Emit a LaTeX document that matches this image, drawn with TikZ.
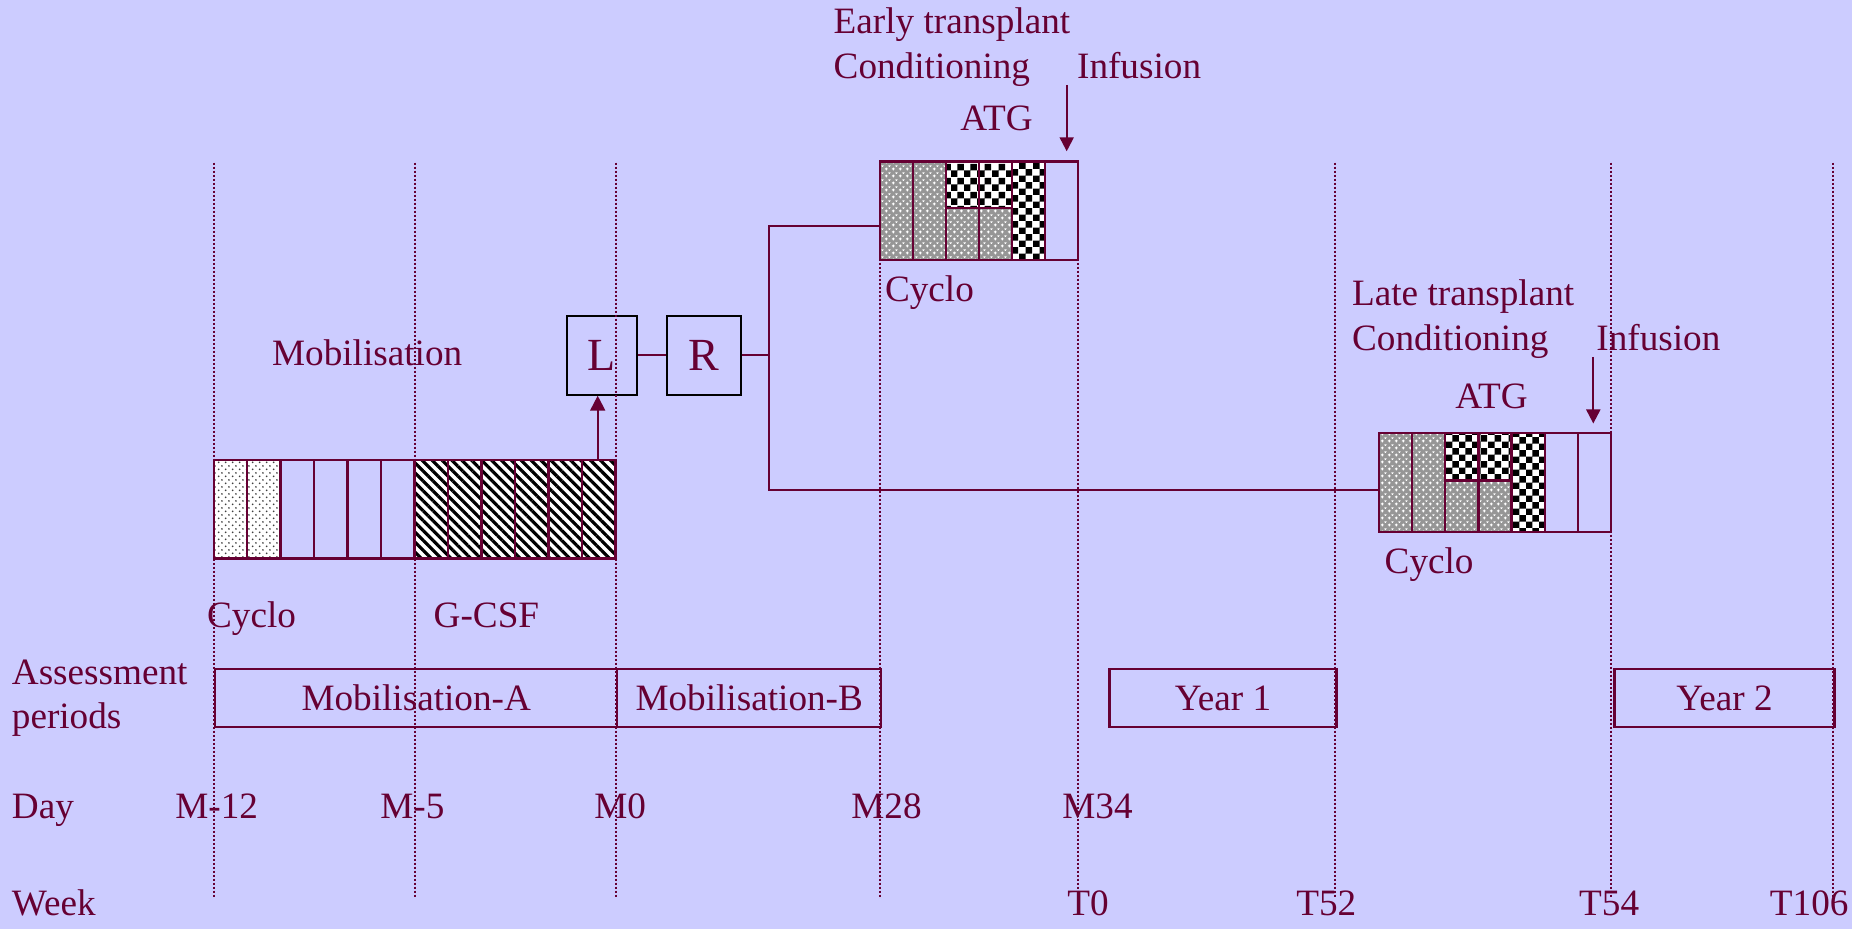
\documentclass[tikz,border=0pt]{standalone}
\usepackage{fontspec}
\setmainfont{Liberation Serif}
\usetikzlibrary{fit,arrows.meta,patterns,patterns.meta}
\definecolor{bgc}{RGB}{204,204,255}
\definecolor{mar}{RGB}{102,0,51}
\definecolor{midgray}{RGB}{150,150,150}

\pgfdeclarepatternformonly{mydots}{\pgfqpoint{0pt}{0pt}}{\pgfqpoint{3.4pt}{3.4pt}}{\pgfqpoint{3.4pt}{3.4pt}}{%
  \pgfpathcircle{\pgfqpoint{0.85pt}{0.85pt}}{0.5pt}%
  \pgfpathcircle{\pgfqpoint{2.55pt}{2.55pt}}{0.5pt}%
  \pgfusepath{fill}}
\pgfdeclarepatternformonly{crossx}{\pgfqpoint{0pt}{0pt}}{\pgfqpoint{3.4pt}{3.4pt}}{\pgfqpoint{3.4pt}{3.4pt}}{%
  \pgfpathrectangle{\pgfqpoint{0.5pt}{1.3pt}}{\pgfqpoint{1.4pt}{0.5pt}}%
  \pgfpathrectangle{\pgfqpoint{0.95pt}{0.85pt}}{\pgfqpoint{0.5pt}{1.4pt}}%
  \pgfpathrectangle{\pgfqpoint{2.2pt}{2.95pt}}{\pgfqpoint{1.2pt}{0.45pt}}%
  \pgfpathrectangle{\pgfqpoint{2.55pt}{2.6pt}}{\pgfqpoint{0.45pt}{0.8pt}}%
  \pgfusepath{fill}}
\pgfdeclarepatternformonly{checker}{\pgfqpoint{0pt}{0pt}}{\pgfqpoint{6.7pt}{6.7pt}}{\pgfqpoint{6.7pt}{6.7pt}}{%
  \pgfpathrectangle{\pgfqpoint{0pt}{0pt}}{\pgfqpoint{3.35pt}{3.35pt}}%
  \pgfpathrectangle{\pgfqpoint{3.35pt}{3.35pt}}{\pgfqpoint{3.35pt}{3.35pt}}%
  \pgfusepath{fill}}

\tikzset{
  lab/.style={text=mar, font=\fontsize{18.6}{22}\selectfont, inner sep=0pt, anchor=base west},
  cell/.style={draw=mar, line width=1.2pt},
  dotcell/.style={preaction={fill=white}, preaction={pattern=mydots, pattern color=black!75}, draw=mar, line width=1.2pt},
  hatchcell/.style={preaction={fill=white}, preaction={pattern={Lines[angle=-45,distance=3.5pt,line width=1.6pt]}, pattern color=black}, draw=mar, line width=1.2pt},
  checkcell/.style={preaction={fill=white}, preaction={pattern=checker, pattern color=black}, draw=mar, line width=1.2pt},
  graycell/.style={preaction={fill=midgray}, preaction={pattern=crossx, pattern color=white}, draw=mar, line width=1.2pt},
  abox/.style={draw=mar, line width=1.2pt, text=mar, font=\fontsize{18.6}{22}\selectfont, inner sep=0pt, anchor=north west, minimum height=29.15pt},
  lrbox/.style={draw=black, line width=1pt, text=mar, font=\fontsize{23}{27}\selectfont, inner sep=0pt, minimum height=39.5pt},
  conn/.style={draw=mar, line width=1pt},
  arr/.style={conn, -{Triangle[length=7.5pt,width=7.5pt]}},
  gridline/.style={draw=mar, line width=1pt, dash pattern=on 1pt off 1pt},
}

\begin{document}
\begin{tikzpicture}[x=0.5pt,y=-0.5pt]
\useasboundingbox (0,0) rectangle (1852,929);
\fill[bgc] (0,0) rectangle (1852,929);

% Mobilisation box
\foreach \i in {0,1} \draw[dotcell] ({213.7+33.48*\i},460) rectangle ++(33.48,98.5);
\foreach \i in {2,...,5} \draw[cell] ({213.7+33.48*\i},460) rectangle ++(33.48,98.5);
\foreach \i in {6,...,11} \draw[hatchcell] ({213.7+33.48*\i},460) rectangle ++(33.48,98.5);
\node[fit={(213.7,460)(615.5,558.5)}, inner sep=0pt] (mob) {};

% Early transplant box
\foreach \i in {0,1} \draw[graycell] ({880+33*\i},161.7) rectangle ++(33,98.3);
\foreach \i in {2,3} {
  \draw[checkcell] ({880+33*\i},161.7) rectangle ++(33,46.6);
  \draw[graycell] ({880+33*\i},208.3) rectangle ++(33,51.7);
}
\draw[checkcell] ({880+33*4},161.7) rectangle ++(33,98.3);
\draw[cell] ({880+33*5},161.7) rectangle ++(33,98.3);
\node[fit={(880,161.7)(1078,260)}, inner sep=0pt] (early) {};

% Late transplant box
\foreach \i in {0,1} \draw[graycell] ({1379+33.14*\i},433.3) rectangle ++(33.14,99);
\foreach \i in {2,3} {
  \draw[checkcell] ({1379+33.14*\i},433.3) rectangle ++(33.14,47.4);
  \draw[graycell] ({1379+33.14*\i},480.7) rectangle ++(33.14,51.6);
}
\draw[checkcell] ({1379+33.14*4},433.3) rectangle ++(33.14,99);
\foreach \i in {5,6} \draw[cell] ({1379+33.14*\i},433.3) rectangle ++(33.14,99);
\node[fit={(1379,433.3)(1611,532.3)}, inner sep=0pt] (late) {};

% L and R
\node[lrbox, minimum width=35pt] (L) at (601.7,355.2) {L};
\node[lrbox, minimum width=36.7pt] (R) at (704,355.2) {R};

% connectors
\coordinate (split) at (768.7,355.2);
\coordinate (ejoin) at (880,226);
\coordinate (ljoin) at (1379,490);
\coordinate (mobtop) at (597.7,460);
\draw[conn] (L) -- (R);
\draw[conn] (R) -- (split);
\draw[conn] (split) |- (ejoin);
\draw[conn] (split) |- (ljoin);
\draw[arr] (mobtop) -- (mobtop |- L.south);

\coordinate (inf1) at (1066.7,85);
\coordinate (inf2) at (1593.3,357);
\draw[arr, -{Triangle[length=7pt,width=7pt]}] (inf1) -- ([yshift=5pt]early.north -| inf1);
\draw[arr, -{Triangle[length=7pt,width=7pt]}] (inf2) -- ([yshift=4.7pt]late.north -| inf2);

% assessment boxes
\node[abox, minimum width=201pt] (mA) at (214,667.7) {Mobilisation-A};
\node[abox, minimum width=132pt] (mB) at (616,667.7) {Mobilisation-B};
\node[abox, minimum width=113.5pt] (y1) at (1108.3,667.7) {Year 1};
\node[abox, minimum width=109.9pt] (y2) at (1613.4,667.7) {Year 2};

% labels
\node[lab] (et) at (833.3,34) {Early transplant};
\node[lab] (ec) at (833.3,79) {Conditioning};
\node[lab] (ei) at (1076.7,79) {Infusion};
\node[lab] (ea) at (960,131) {ATG};
\node[lab] (ecy) at (884.6,302) {Cyclo};
\node[lab] (lt) at (1351.7,305.7) {Late transplant};
\node[lab] (lc) at (1351.7,350.7) {Conditioning};
\node[lab] (li) at (1596,350.7) {Infusion};
\node[lab] (la) at (1455,409) {ATG};
\node[lab] (lcy) at (1384.3,573.5) {Cyclo};
\node[lab] (mobl) at (271.7,365.7) {Mobilisation};
\node[lab] (mcy) at (206.7,627.3) {Cyclo};
\node[lab] (gcsf) at (433.3,627.3) {G-CSF};
\node[lab] (ass1) at (11.5,684.7) {Assessment};
\node[lab] (ass2) at (11.5,728.3) {periods};
\node[lab] (day) at (11.5,818) {Day};
\node[lab] (d1) at (175,818) {M-12};
\node[lab] (d2) at (380,818) {M-5};
\node[lab] (d3) at (594,818) {M0};
\node[lab] (d4) at (851,818) {M28};
\node[lab] (d5) at (1062,818) {M34};
\node[lab] (week) at (11.5,915.7) {Week};
\node[lab] (w1) at (1067,915.7) {T0};
\node[lab] (w2) at (1296,915.7) {T52};
\node[lab] (w3) at (1578.8,915.7) {T54};
\node[lab] (w4) at (1769.5,915.7) {T106};

% dotted grid lines
\foreach \x in {214.1,415,616,880,1078,1335.3,1611,1833.2}
  \draw[gridline] (\x,162.7) -- (\x,897);
\end{tikzpicture}
\end{document}
